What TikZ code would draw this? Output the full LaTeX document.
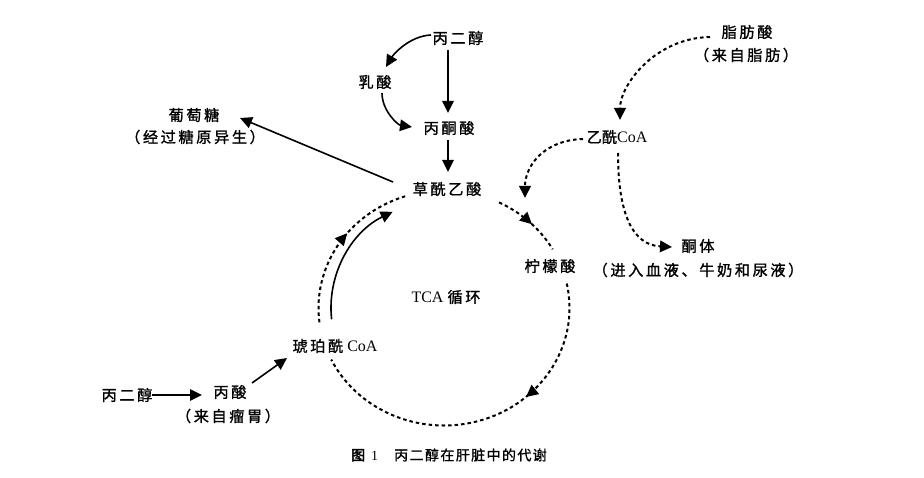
\documentclass[tikz,border=0pt]{standalone}
\usepackage{fontspec}
\setmainfont{Liberation Serif}
\newfontfamily\zh[LetterSpace=17,FakeBold=1.2,Scale=0.95]{Noto Sans CJK SC}
\newfontfamily\zhn[FakeBold=1.2,Scale=0.95]{Noto Sans CJK SC}
\newfontfamily\zhp[LetterSpace=10,FakeBold=1]{Noto Sans CJK SC}
\newfontfamily\zhb[FakeBold=2.5]{Noto Sans CJK SC}
\usetikzlibrary{arrows.meta,calc,decorations.markings}
\tikzset{
  lbl/.style={inner sep=0pt, font=\fontsize{16}{18}\selectfont},
  capt/.style={inner sep=0pt, font=\fontsize{14}{16}\selectfont},
  arr/.style={line width=1.6pt, -{Triangle[length=12pt,width=11.5pt]}},
  dotline/.style={line width=2pt, dash pattern=on 3.5pt off 3pt},
  darr/.style={dotline, -{Triangle[length=12pt,width=11.5pt]}},
  midarrow/.style={postaction={decorate}, decoration={markings,
     mark=at position #1 with {\arrow{Triangle[length=12pt,width=11.5pt]}}}},
}
\begin{document}
\begin{tikzpicture}[x=1pt,y=1pt]
\fill[white] (0,0) rectangle (924,-478);
\useasboundingbox (0,0) rectangle (924,-478);

% nodes
\node[lbl] (pdoA) at (458,-38) {\zh 丙二醇};
\node[lbl] (lac) at (375,-82) {\zh 乳酸};
\node[lbl] (pyr) at (449,-128) {\zh 丙酮酸};
\node[lbl] (oaa) at (447,-189) {\zh 草酰乙酸};
\node[lbl] (glu) at (194,-115) {\zh 葡萄糖};
\node[lbl] (glu2) at (195,-137) {\zh （经过糖原异生）};
\node[lbl] (fa) at (747,-32) {\zh 脂肪酸};
\node[lbl] (fa2) at (746,-55) {\zh （来自脂肪）};
\node[lbl] (aca) at (617,-137) {{\zhn 乙酰}CoA};
\node[lbl] (ket) at (698,-246) {\zh 酮体};
\node[lbl] (ket2) at (698,-270) {\zh （进入血液、牛奶和尿液）};
\node[lbl] (cit) at (550,-266) {\zh 柠檬酸};
\node[lbl] (tca) at (446,-297) {TCA {\zh 循环}};
\node[lbl] (suc) at (335,-346) {{\zh 琥珀酰} CoA};
\node[lbl] (pdoB) at (127,-395) {\zh 丙二醇};
\node[lbl] (pro) at (230,-392) {\zh 丙酸};
\node[lbl] (pro2) at (228,-416) {\zh （来自瘤胃）};
\node[capt] (cap) at (449,-455) {{\zhb 图}\hspace{6pt}1\hspace{16pt}{\zhp 丙二醇在肝脏中的代谢}};

% top connectors
\draw[arr] ($(pdoA)+(-27,3)$) .. controls +(-22,-1) and +(7,12) .. ($(lac)+(11,15)$);
\draw[arr] ($(lac)+(7,-11)$) .. controls +(0,-18) and +(-14,2) .. ($(pyr)+(-37,1)$);
\draw[arr] ($(pdoA)+(-10,-12)$) -- ($(pyr)+(-1,15)$);
\draw[arr] ($(pyr)+(-1,-12)$) -- ($(oaa)+(1,17)$);
\draw[arr] ($(oaa)+(-54,7)$) -- ($(glu)+(46,-3)$);

% fatty acid connectors
\draw[darr] ($(fa)+(-37,-5)$) .. controls +(-55,-1) and +(0,35) .. ($(aca)+(3,17)$);
\draw[darr] ($(aca)+(-34,-2)$) .. controls +(-38,-1) and +(0,33) .. ($(cit)+(-25,68)$);
\draw[darr] ($(aca)+(1,-16)$) .. controls +(0,-62) and +(-39,2) .. ($(ket)+(-26,-1)$);

% bottom-left connectors
\draw[arr] ($(pdoB)+(25,0)$) -- ($(pro)+(-28,-3)$);
\draw[arr] ($(pro)+(22,9)$) -- ($(suc)+(-48,-12)$);

% TCA cycle
\coordinate (O) at (444,-308);
\draw[dotline, midarrow=0.58] ($(O)+(187:125.5pt and 117.5pt)$)
  arc[start angle=187, end angle=108, x radius=125.5pt, y radius=117.5pt];
\draw[dotline, midarrow=0.55] ($(O)+(64:125.5pt and 117.5pt)$)
  arc[start angle=64, end angle=30, x radius=125.5pt, y radius=117.5pt];
\draw[dotline, midarrow=0.36] ($(O)+(12:125.5pt and 117.5pt)$)
  arc[start angle=12, end angle=-154, x radius=125.5pt, y radius=117.5pt];
\draw[arr] ($(O)+(186:113pt and 108pt)$)
  arc[start angle=186, end angle=117, x radius=113pt, y radius=108pt];
\end{tikzpicture}
\end{document}
